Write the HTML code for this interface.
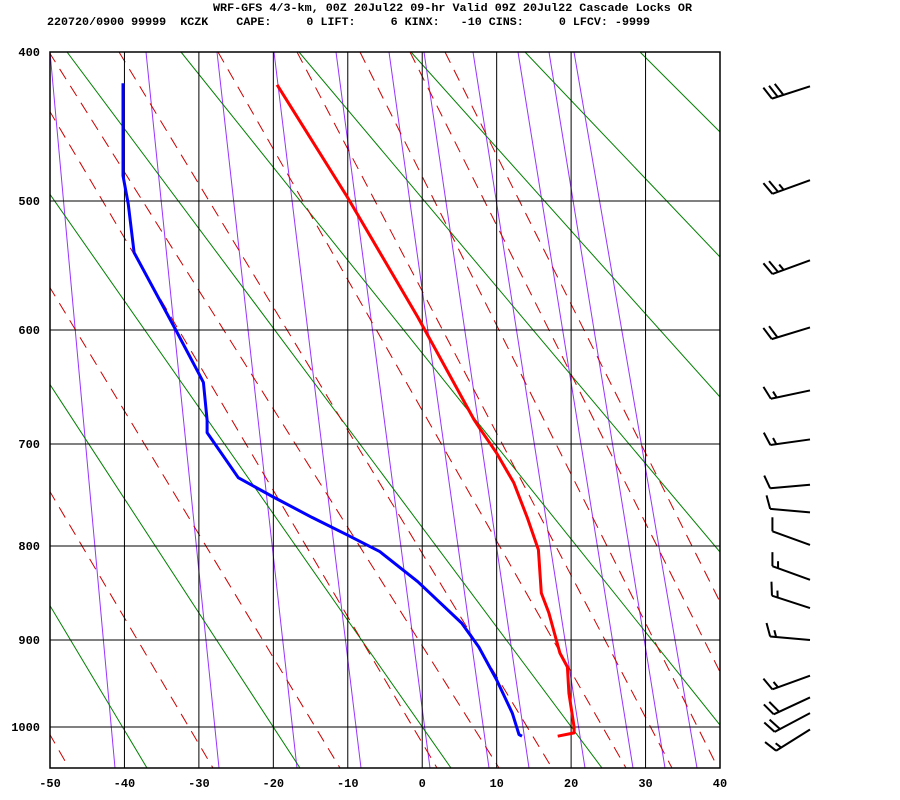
<!DOCTYPE html>
<html><head><meta charset="utf-8"><style>
html,body{margin:0;padding:0;background:#fff;}
svg{display:block;}
text{font-family:"Liberation Mono",monospace;font-weight:bold;fill:#000;}
</style></head><body>
<svg id="chart" width="900" height="800" viewBox="0 0 900 800" xmlns="http://www.w3.org/2000/svg">
<text x="213" y="11" font-size="11.4" textLength="479" lengthAdjust="spacingAndGlyphs">WRF-GFS 4/3-km, 00Z 20Jul22 09-hr Valid 09Z 20Jul22 Cascade Locks OR</text>
<text x="47" y="25" font-size="11.4" xml:space="preserve" textLength="603" lengthAdjust="spacingAndGlyphs">220720/0900 99999  KCZK    CAPE:     0 LIFT:     6 KINX:   -10 CINS:     0 LFCV: -9999</text>
<defs><clipPath id="plotclip"><rect x="50" y="52" width="670" height="716"/></clipPath></defs>
<g id="bg" clip-path="url(#plotclip)"></g>
<g id="grid"></g>
<g id="series" clip-path="url(#plotclip)"></g>
<g id="axes"></g>
<g id="barbs"></g>
</svg>
<script>
// ---- data ----
const tempP = [422,497,590,679,685,709,738,772,804,850,871,915,931,961,1000,1007,1011];
const tempT = [-19.5,-10.1,-0.6,7.0,7.6,10.0,12.3,14.1,15.6,16.0,17.0,18.5,19.5,19.7,20.4,20.4,18.2];
const dewP = [421,483,502,540,600,637,646,679,690,733,752,772,789,806,838,882,908,946,984,1009,1011];
const dewT = [-40.2,-40.2,-39.5,-38.7,-33.1,-30.1,-29.4,-28.9,-28.9,-24.7,-20.0,-14.8,-10.1,-5.7,-0.6,5.3,7.6,10.0,12.1,13.0,13.4];
const pTicks = [400,500,600,700,800,900,1000];
const tTicks = [-50,-40,-30,-20,-10,0,10,20,30,40];
const windP = [423,486,546,598,653,696,740,767,799,836,866,900,941,966,984,1003];
const windDir = [252,250,250,253,258,262,265,275,290,290,288,275,250,245,242,238];
const windSpd = [30,25,25,20,15,15,10,10,10,15,15,15,15,20,20,15];

// ---- axis functions ----
function yOf(p){
  const P=[400,500,600,700,800,900,1000,1050], Y=[52,201,330,444,546,640,727,769];
  for(let i=0;i<P.length-1;i++){ if(p<=P[i+1]||i==P.length-2){const f=(p-P[i])/(P[i+1]-P[i]);return Y[i]+f*(Y[i+1]-Y[i]);} }
}
function xOf(t){ return 50 + (t+50)*670/90; }

const NS="http://www.w3.org/2000/svg";
function mk(tag,attrs,parent){const e=document.createElementNS(NS,tag);for(const k in attrs)e.setAttribute(k,attrs[k]);parent.appendChild(e);return e;}
const bg=document.getElementById('bg'), grid=document.getElementById('grid'), series=document.getElementById('series'), axes=document.getElementById('axes'), barbs=document.getElementById('barbs');

const purple=[[50,115],[146,219],[217,297],[274,361],[336,430],[389,489],[424,529],[473,585],[518,633],[549,665],[574,697]];
purple.forEach(([a,b])=>{const l=mk('line',{x1:a,y1:52,x2:b,y2:768,stroke:'#9933ff','stroke-width':1},bg);

});
const green=[[640,52,720,132],[525,52,720,257],[411,52,720,397],[299,52,720,552],[181,52,720,725],[67,52,602,768],[49,193,451,768],[49,383,300,768],[49,604,147,768]];
green.forEach(([a,b,c,d])=>{const l=mk('line',{x1:a,y1:b,x2:c,y2:d,stroke:'#008000','stroke-width':1},bg);

});
const red=[[49,52,499,768],[119,52,552,768],[218,52,626,768],[297,52,672,768],[360,52,718,768],[410,52,720,672],[445,52,720,602],[49,110,437,768],[49,286,340,768],[49,490,213,768],[49,733,69,768]];
red.forEach(([a,b,c,d])=>{const l=mk('line',{x1:a,y1:b,x2:c,y2:d,stroke:'#cc0000','stroke-width':1,'stroke-dasharray':'12,8'},bg);

});

tTicks.forEach(t=>{const l=mk('line',{x1:xOf(t),y1:52,x2:xOf(t),y2:768,stroke:'#000','stroke-width':1},grid);

});
pTicks.forEach(p=>{const l=mk('line',{x1:50,y1:yOf(p),x2:720,y2:yOf(p),stroke:'#000','stroke-width':1},grid);

});
const fr=mk('rect',{x:50,y:52,width:670,height:716,fill:'none',stroke:'#000','stroke-width':1.5},grid);



function path(P,T,color,name){
  const d=P.map((p,i)=>(i?'L':'M')+xOf(T[i]).toFixed(1)+','+yOf(p).toFixed(1)).join('');
  const e=mk('path',{d:d,fill:'none',stroke:color,'stroke-width':3,'stroke-linejoin':'round'},series);
  
  
}
path(dewP,dewT,'#0000ff','dewpoint-line');
path(tempP,tempT,'#ff0000','temperature-line');

pTicks.forEach(p=>{const t=mk('text',{x:40,y:yOf(p)+4,'font-size':12,'text-anchor':'end'},axes);t.textContent=String(p);

});
tTicks.forEach(v=>{const t=mk('text',{x:xOf(v),y:787,'font-size':12,'text-anchor':'middle'},axes);t.textContent=String(v);

});

windP.forEach((p,i)=>{
  const y=yOf(p), x=810;
  const a=windDir[i]*Math.PI/180;
  const ux=Math.sin(a), uy=-Math.cos(a);
  const L=40, bx=x+ux*L, by=y+uy*L;
  const g=mk('g',{stroke:'#000','stroke-width':2,fill:'none'},barbs);
  
  
  mk('line',{x1:x,y1:y,x2:bx,y2:by},g);
  const th=70*Math.PI/180;
  const rx=ux*Math.cos(th)-uy*Math.sin(th), ry=ux*Math.sin(th)+uy*Math.cos(th);
  let s=windSpd[i], k=0;
  while(s>=10){const px=bx-ux*k*6, py=by-uy*k*6;mk('line',{x1:px,y1:py,x2:px+rx*14,y2:py+ry*14},g);s-=10;k++;}
  if(s>=5){const px=bx-ux*k*6, py=by-uy*k*6;mk('line',{x1:px,y1:py,x2:px+rx*7,y2:py+ry*7},g);}
});
</script>
</body></html>
